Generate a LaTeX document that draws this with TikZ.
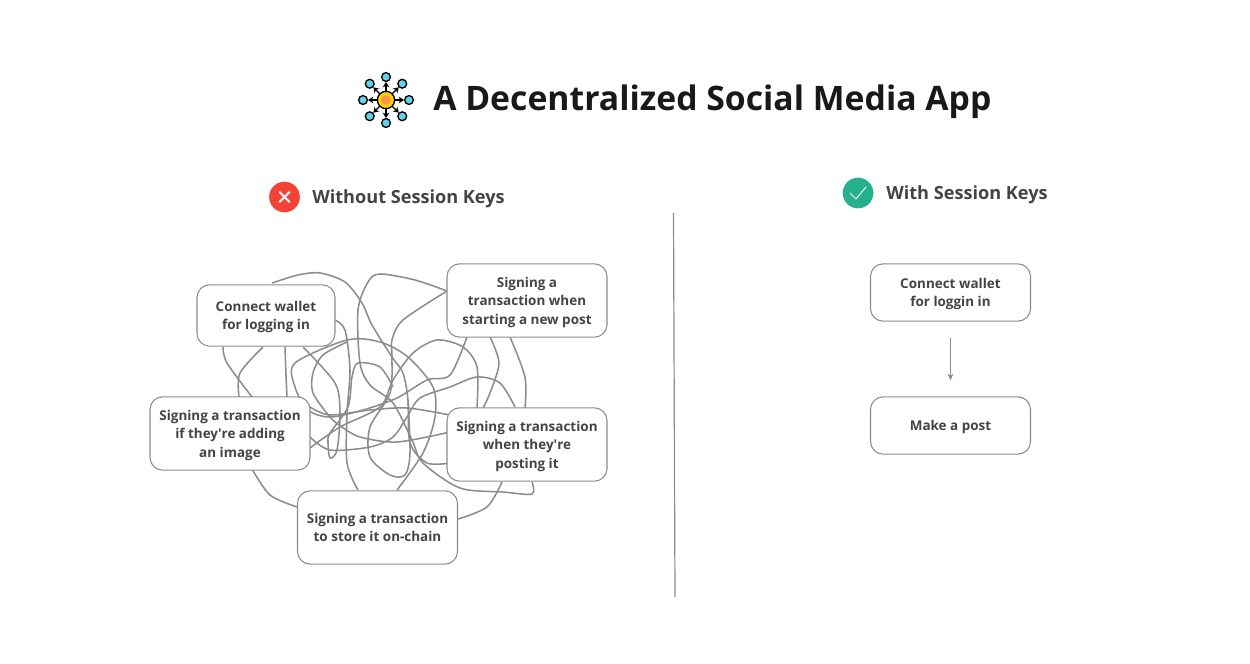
\documentclass[tikz,border=0pt]{standalone}
\usepackage{fontspec}
\usepackage{xcolor}
\setmainfont{Open Sans}
\usetikzlibrary{arrows.meta}
\definecolor{inkgrey}{HTML}{444444}
\definecolor{linegrey}{HTML}{8C8C8C}
\definecolor{badred}{HTML}{F44336}
\definecolor{goodgreen}{HTML}{26B08C}
\definecolor{dotblue}{HTML}{62D2EC}
\tikzset{
	stepbox/.style={draw=linegrey, line width=0.8pt, fill=white, rounded corners=9.5pt, align=center,
		minimum width=120pt, minimum height=#1, inner sep=0pt, text=inkgrey, text depth=0pt,
		font=\fontsize{10.1}{13.9}\selectfont\bfseries},
	stepbox/.default=55pt,
	headline/.style={anchor=west, inner sep=0pt, text=inkgrey, font=\fontsize{13.6}{18}\selectfont\bfseries},
	tangle/.style={draw=linegrey, line width=1.15pt, line join=round}
}
\begin{document}
\begin{tikzpicture}[x=0.75pt,y=-0.75pt]
	\useasboundingbox (0,0) rectangle (1250,664);

	% the icon beside the title
	\foreach \a in {0,45,...,315}{
		\draw[line width=1pt, -{Stealth[length=4pt,width=5pt]}] (386,100)++(\a:8) -- ++(\a:10);
		\draw[fill=dotblue, line width=1pt] (386,100)++(\a:23) circle (3.3pt);
	}
	\draw[fill=yellow!70!orange, line width=1pt] (386,100) circle (6.5pt);
	\fill[orange!80!red!70] (386,100) circle (3.6pt);

	% the title and the two headings
	\node[anchor=west, inner sep=0pt, text=black!90, font=\fontsize{25.3}{30}\selectfont\bfseries] (title) at (433,102) {A Decentralized Social Media App};
	\fill[badred] (284.5,197) circle (11.5pt);
	\draw[white, line width=1.5pt, line cap=round] (279.5,192) -- (289.5,202) (279.5,202) -- (289.5,192);
	\node[headline] (without) at (312,199) {Without Session Keys};
	\fill[goodgreen] (858,193) circle (11.5pt);
	\draw[white, line width=0.7pt, line cap=round, line join=round] (850,193) -- (856,199) -- (866,187);
	\node[headline] (with) at (886,195) {With Session Keys};

	% the divider
	\coordinate (dividertop) at (673.5,213);
	\coordinate (dividerbottom) at (675,597);
	\draw[linegrey, line width=0.9pt] (dividertop) -- (dividerbottom);

	% the scribble behind the boxes
	\draw[tangle] plot[smooth] coordinates {(272,283) (298,275) (320,273) (345,282) (362,303) (372,325) (392,357) (403,373) (408,400) (410,443) (427,463) (450,463)};
	\draw[tangle] plot[smooth] coordinates {(447,291) (415,280) (380,274) (368,282) (358,310) (360,363) (370,385) (393,403) (412,440) (423,463) (460,488) (503,492) (532,494) (532,482)};
	\draw[tangle] plot[smooth] coordinates {(447,291) (403,320) (392,340) (392,357) (390,393) (370,427) (370,457) (390,475) (405,475) (410,453) (408,400)};
	\draw[tangle] plot[smooth] coordinates {(467,337) (450,375) (427,380) (397,398) (363,410) (330,417) (308,410) (295,387) (295,363) (347,340) (380,342) (408,357) (433,387) (435,417) (423,453) (397,490)};
	\draw[tangle] plot[smooth] coordinates {(490,337) (499,363) (490,393) (483,408)};
	\draw[tangle] plot[smooth] coordinates {(510,337) (525,377) (525,408)};
	\draw[tangle] plot[smooth] coordinates {(477,408) (477,367) (463,347) (437,340) (413,353) (393,380) (380,407) (340,427) (310,448)};
	\draw[tangle] plot[smooth] coordinates {(515,407) (500,383) (477,377) (450,387) (420,398) (407,417) (393,437) (370,447) (330,450) (310,437)};
	\draw[tangle] plot[smooth] coordinates {(347,342) (323,355) (313,373) (313,393) (330,417) (342,427) (360,437) (397,442) (450,432)};
	\draw[tangle] plot[smooth] coordinates {(310,407) (330,415) (370,410) (407,408) (450,415)};
	\draw[tangle] plot[smooth] coordinates {(335,320) (345,330) (350,370) (347,413) (347,463) (358,490)};
	\draw[tangle] plot[smooth] coordinates {(393,387) (380,367) (358,363) (352,377) (348,407) (330,433) (328,443) (330,458) (337,450) (340,413) (335,383) (303,347)};
	\draw[tangle] plot[smooth] coordinates {(263,347) (240,373) (239,397)};
	\draw[tangle] plot[smooth] coordinates {(223,347) (227,363) (252,397)};
	\draw[tangle] plot[smooth] coordinates {(285,347) (286,375) (287,397)};
	\draw[tangle] plot[smooth] coordinates {(502,482) (487,507) (458,519)};
	\draw[tangle] plot[smooth] coordinates {(252,469) (270,495) (297,507)};

	% the boxes on the left
	\node[stepbox=46pt, minimum width=103.5pt] (logging) at (266,315.5) {Connect wallet\\for logging in};
	\node[stepbox] (newpost) at (527,300.5) {Signing a\\transaction when\\starting a new post};
	\node[stepbox] (adding) at (230,433.5) {Signing a transaction\\if they\textquotesingle re adding\\an image};
	\node[stepbox] (posting) at (527,444.5) {Signing a transaction\\when they\textquotesingle re\\posting it};
	\node[stepbox] (onchain) at (377.5,527.5) {Signing a transaction\\to store it on-chain};

	% the boxes on the right
	\node[stepbox=43pt] (loggin) at (950.5,292.5) {Connect wallet\\for loggin in};
	\node[stepbox=43pt] (makepost) at (950.5,425.5) {Make a post};
	\draw[linegrey, line width=0.8pt, shorten >=12pt, shorten <=12.5pt, -{Stealth[length=5pt,width=4.5pt]}] (loggin) -- (makepost);
\end{tikzpicture}
\end{document}
